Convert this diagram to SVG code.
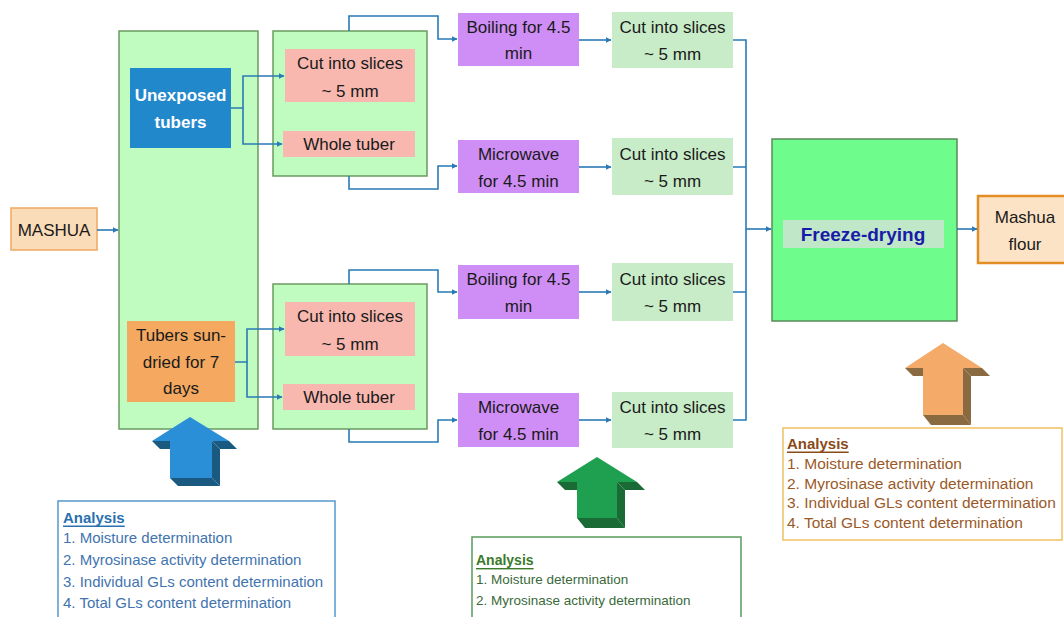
<svg xmlns="http://www.w3.org/2000/svg" width="1064" height="617" viewBox="0 0 1064 617">
<defs>
<marker id="ah" viewBox="0 0 10 10" refX="9" refY="5" markerWidth="6" markerHeight="6" orient="auto" markerUnits="userSpaceOnUse">
<path d="M0,0 L10,5 L0,10 Z" fill="#2a7ab5"/>
</marker>
<style>
.t{font-family:"Liberation Sans",Arial,sans-serif;font-size:17px;fill:#1a1a1a;text-anchor:middle;dominant-baseline:central}
.w{fill:#ffffff;font-weight:bold}
.c{fill:none;stroke:#2a7ab5;stroke-width:1.6}
.big{fill:#c0fcc0;stroke:#6a9a60;stroke-width:1.5}
.pink{fill:#f8b8b0}
.purp{fill:#cf8ef5}
.lg{fill:#c8ecc8}
.an{font-family:"Liberation Sans",Arial,sans-serif;dominant-baseline:central}
</style>
</defs>
<rect width="1064" height="617" fill="#ffffff"/>

<g id="mashua"><rect x="11" y="208" width="86" height="42" fill="#fbdcb8" stroke="#f0a860" stroke-width="1.5"/><text class="t" x="54" y="230">MASHUA</text></g>

<g id="group-left"><rect class="big" x="119" y="31" width="139" height="398"/></g>
<g id="unexposed"><rect x="130" y="68" width="101" height="80" fill="#2288cc"/><text class="t w" x="180.5" y="95">Unexposed</text><text class="t w" x="180.5" y="122">tubers</text></g>
<g id="sundried"><rect x="127" y="321" width="108" height="81" fill="#f5a960"/><text class="t" x="181" y="335">Tubers sun-</text><text class="t" x="181" y="362">dried for 7</text><text class="t" x="181" y="388">days</text></g>

<g id="group-upper"><rect class="big" x="273" y="31" width="154" height="145"/></g>
<g id="cut-u1"><rect class="pink" x="285" y="49" width="130" height="53"/><text class="t" x="350" y="63">Cut into slices</text><text class="t" x="350" y="91">~ 5 mm</text></g>
<g id="whole-u"><rect class="pink" x="283" y="131" width="132" height="26"/><text class="t" x="349" y="144">Whole tuber</text></g>

<g id="group-lower"><rect class="big" x="273" y="284" width="154" height="145"/></g>
<g id="cut-l1"><rect class="pink" x="285" y="302" width="130" height="54"/><text class="t" x="350" y="316">Cut into slices</text><text class="t" x="350" y="344">~ 5 mm</text></g>
<g id="whole-l"><rect class="pink" x="283" y="384" width="132" height="26"/><text class="t" x="349" y="397">Whole tuber</text></g>

<g id="boil1"><rect class="purp" x="458" y="13" width="121" height="53"/><text class="t" x="518.5" y="27">Boiling for 4.5</text><text class="t" x="518.5" y="53">min</text></g>
<g id="micro1"><rect class="purp" x="458" y="140" width="121" height="53"/><text class="t" x="518.5" y="154">Microwave</text><text class="t" x="518.5" y="181">for 4.5 min</text></g>
<g id="boil2"><rect class="purp" x="458" y="265" width="121" height="54"/><text class="t" x="518.5" y="279">Boiling for 4.5</text><text class="t" x="518.5" y="306">min</text></g>
<g id="micro2"><rect class="purp" x="458" y="393" width="121" height="54"/><text class="t" x="518.5" y="407">Microwave</text><text class="t" x="518.5" y="434">for 4.5 min</text></g>

<g id="cut1"><rect class="lg" x="612" y="12" width="121" height="56"/><text class="t" x="672.5" y="27">Cut into slices</text><text class="t" x="672.5" y="54">~ 5 mm</text></g>
<g id="cut2"><rect class="lg" x="612" y="138" width="121" height="57"/><text class="t" x="672.5" y="154">Cut into slices</text><text class="t" x="672.5" y="181">~ 5 mm</text></g>
<g id="cut3"><rect class="lg" x="612" y="263" width="121" height="58"/><text class="t" x="672.5" y="279">Cut into slices</text><text class="t" x="672.5" y="306">~ 5 mm</text></g>
<g id="cut4"><rect class="lg" x="612" y="392" width="121" height="56"/><text class="t" x="672.5" y="407">Cut into slices</text><text class="t" x="672.5" y="434">~ 5 mm</text></g>

<g id="freeze"><rect x="772" y="139" width="185" height="182" fill="#6efc8c" stroke="#5a8a5a" stroke-width="1.5"/><rect x="783" y="220" width="161" height="28" fill="#c0e8c8"/><text class="t" x="863" y="234" style="font-weight:bold;font-size:19px;fill:#1a1aaa">Freeze-drying</text></g>

<g id="flour"><rect x="978" y="196" width="90" height="67" fill="#fde3c6" stroke="#e38d25" stroke-width="2.5"/><text class="t" x="1025" y="217">Mashua</text><text class="t" x="1025" y="244">flour</text></g>

<g id="connectors">
<path class="c" d="M97,230 H118" marker-end="url(#ah)"/>
<path class="c" d="M231,108 H243 V76 H284" marker-end="url(#ah)"/>
<path class="c" d="M243,108 V144 H282" marker-end="url(#ah)"/>
<path class="c" d="M235,362 H247 V329 H284" marker-end="url(#ah)"/>
<path class="c" d="M247,362 V397 H282" marker-end="url(#ah)"/>
<path class="c" d="M349,31 V16 H438 V39 H457" marker-end="url(#ah)"/>
<path class="c" d="M349,176 V189 H438 V166 H457" marker-end="url(#ah)"/>
<path class="c" d="M349,284 V270 H438 V292 H457" marker-end="url(#ah)"/>
<path class="c" d="M349,429 V442 H438 V420 H457" marker-end="url(#ah)"/>
<path class="c" d="M579,40 H611" marker-end="url(#ah)"/>
<path class="c" d="M579,167 H611" marker-end="url(#ah)"/>
<path class="c" d="M579,292 H611" marker-end="url(#ah)"/>
<path class="c" d="M579,420 H611" marker-end="url(#ah)"/>
<path class="c" d="M733,40 H746 V420 H733 M733,167 H746 M733,292 H746"/>
<path class="c" d="M746,229 H771" marker-end="url(#ah)"/>
<path class="c" d="M957,229 H977" marker-end="url(#ah)"/>
</g>

<g id="arrow-blue">
<polygon points="152,441 170,441 178,449 160,449" fill="#1a5a80"/>
<polygon points="212,441 229,441 237,449 220,449" fill="#1a5a80"/>
<polygon points="212,441 212,478 220,486 220,449" fill="#1a5a80"/>
<polygon points="170,478 212,478 220,486 178,486" fill="#1a5a80"/>
<polygon points="190,417 229,441 212,441 212,478 170,478 170,441 152,441" fill="#2a8fd6"/>
</g>
<g id="arrow-green">
<polygon points="557,482 577,482 585,490 565,490" fill="#1a6a36"/>
<polygon points="617,482 637,482 645,490 625,490" fill="#1a6a36"/>
<polygon points="617,482 617,518 625,528 625,490" fill="#1a6a36"/>
<polygon points="577,518 617,518 625,528 585,528" fill="#1a6a36"/>
<polygon points="597,457 637,482 617,482 617,518 577,518 577,482 557,482" fill="#1ea050"/>
</g>
<g id="arrow-orange">
<polygon points="905,368 923,368 931,376 913,376" fill="#8a6a40"/>
<polygon points="963,368 982,368 990,376 971,376" fill="#8a6a40"/>
<polygon points="963,368 963,415 971,425 971,376" fill="#8a6a40"/>
<polygon points="923,415 963,415 971,425 931,425" fill="#8a6a40"/>
<polygon points="943,343 982,368 963,368 963,415 923,415 923,368 905,368" fill="#f4aa68"/>
</g>

<g id="analysis-blue">
<rect x="58" y="501" width="277" height="122" fill="#ffffff" stroke="#5599cc" stroke-width="1.5"/>
<text class="an" x="63" y="517" style="font-size:15px;font-weight:bold;fill:#2a70b0;text-decoration:underline">Analysis</text>
<text class="an" x="63" y="537" style="font-size:15px;fill:#3f74ae">1. Moisture determination</text>
<text class="an" x="63" y="559" style="font-size:15px;fill:#3f74ae">2. Myrosinase activity determination</text>
<text class="an" x="63" y="581" style="font-size:15px;fill:#3f74ae">3. Individual GLs content determination</text>
<text class="an" x="63" y="602" style="font-size:15px;fill:#3f74ae">4. Total GLs content determination</text>
</g>
<g id="analysis-green">
<rect x="472" y="537" width="269" height="86" fill="#ffffff" stroke="#5a9a5a" stroke-width="1.5"/>
<text class="an" x="476" y="560" style="font-size:14px;font-weight:bold;fill:#3a7a2a;text-decoration:underline">Analysis</text>
<text class="an" x="476" y="579" style="font-size:13.5px;fill:#3a6a3a">1. Moisture determination</text>
<text class="an" x="476" y="600" style="font-size:13.5px;fill:#3a6a3a">2. Myrosinase activity determination</text>
</g>
<g id="analysis-orange">
<rect x="783" y="428" width="279" height="112" fill="#ffffff" stroke="#f0c060" stroke-width="1.5"/>
<text class="an" x="787" y="443" style="font-size:15px;font-weight:bold;fill:#8a4a18;text-decoration:underline">Analysis</text>
<text class="an" x="787" y="463" style="font-size:15.5px;fill:#9a5a28">1. Moisture determination</text>
<text class="an" x="787" y="483" style="font-size:15.5px;fill:#9a5a28">2. Myrosinase activity determination</text>
<text class="an" x="787" y="502" style="font-size:15.5px;fill:#9a5a28">3. Individual GLs content determination</text>
<text class="an" x="787" y="522" style="font-size:15.5px;fill:#9a5a28">4. Total GLs content determination</text>
</g>
</svg>
